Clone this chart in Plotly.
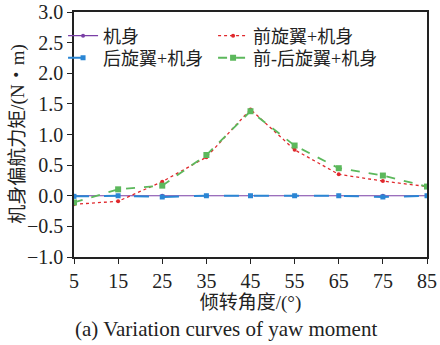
import plotly.graph_objects as go

angles = [5, 15, 25, 35, 45, 55, 65, 75, 85]
body = [0.0, 0.0, 0.0, 0.0, 0.0, 0.0, 0.0, 0.0, 0.0]
front_body = [-0.14, -0.09, 0.23, 0.63, 1.41, 0.75, 0.35, 0.24, 0.15]
rear_body = [-0.01, 0.0, -0.02, 0.0, 0.0, 0.0, 0.0, -0.02, 0.0]
front_rear_body = [-0.11, 0.105, 0.165, 0.665, 1.38, 0.82, 0.45, 0.33, 0.15]

names = ["机身", "前旋翼+机身", "后旋翼+机身", "前-后旋翼+机身"]

FONT = "Liberation Serif, Noto Sans CJK SC"

fig = go.Figure()
fig.add_trace(go.Scatter(x=angles, y=body, name=names[0], mode="lines+markers",
                         line=dict(color="#7a3fa6", width=1.2),
                         marker=dict(symbol="circle", size=4, color="#7a3fa6"),
                         legend="legend"))
fig.add_trace(go.Scatter(x=angles, y=rear_body, name=names[2], mode="lines+markers",
                         line=dict(color="#2a86d4", width=2, dash="longdash"),
                         marker=dict(symbol="square", size=5, color="#2a86d4"),
                         legend="legend2"))
fig.add_trace(go.Scatter(x=angles, y=front_body, name=names[1], mode="lines+markers",
                         line=dict(color="#e0282c", width=1.3, dash="dot"),
                         marker=dict(symbol="circle", size=4, color="#e0282c"),
                         legend="legend3"))
fig.add_trace(go.Scatter(x=angles, y=front_rear_body, name=names[3], mode="lines+markers",
                         line=dict(color="#5cb85c", width=1.8, dash="dash"),
                         marker=dict(symbol="square", size=6, color="#5cb85c"),
                         legend="legend4"))

axis_common = dict(showline=True, linecolor="#222", linewidth=1.5, mirror=True,
                   ticks="outside", ticklen=5, tickcolor="#222", showgrid=False,
                   zeroline=False, automargin=False,
                   tickfont=dict(family=FONT, size=20, color="#222"))

def leg(x, y):
    return dict(x=x, y=y, xanchor="left", yanchor="middle", bgcolor="rgba(0,0,0,0)",
                font=dict(family=FONT, size=18), itemwidth=30, tracegroupgap=0)

fig.update_layout(
    width=440, height=345,
    margin=dict(l=74, r=13, t=12, b=88, autoexpand=False),
    paper_bgcolor="white", plot_bgcolor="white",
    font=dict(family=FONT, color="#222"),
    xaxis=dict(range=[5, 85], tickvals=angles, **axis_common,
               title=dict(text="倾转角度/(°)", font=dict(family=FONT, size=19), standoff=2)),
    yaxis=dict(range=[-1.0, 3.0], dtick=0.5, tickformat=".1f", **axis_common),
    showlegend=True,
    legend=leg(-0.031, 0.902),
    legend2=leg(-0.031, 0.812),
    legend3=leg(0.394, 0.902),
    legend4=leg(0.394, 0.812),
    annotations=[
        dict(text="机身偏航力矩/(N・m)", xref="paper", yref="paper",
             x=-0.161, y=0.5, xanchor="center", yanchor="middle", textangle=-90,
             showarrow=False, font=dict(family=FONT, size=19, color="#222")),
        dict(text="(a) Variation curves of yaw moment", xref="paper", yref="paper",
             x=0.43, y=-0.235, xanchor="center", yanchor="top", showarrow=False,
             font=dict(family=FONT, size=21, color="#222")),
    ],
)

fig.write_html("out.html")
